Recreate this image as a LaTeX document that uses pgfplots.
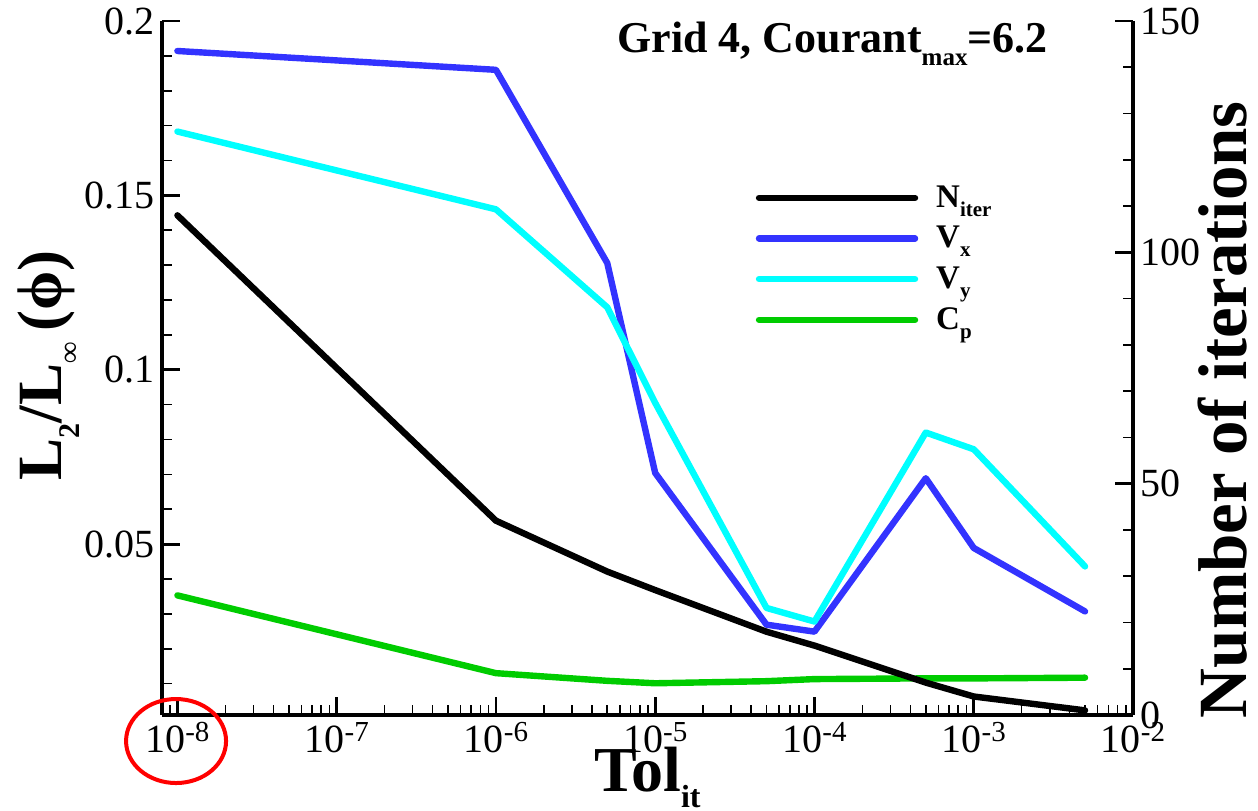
\documentclass[border=0pt]{standalone}
\usepackage{fontspec}
\setmainfont{Liberation Serif}
\usepackage{pgfplots}
\usepackage{pgfplotstable}
\pgfplotsset{compat=1.18}

\definecolor{vxblue}{RGB}{51,51,255}
\definecolor{vycyan}{RGB}{0,255,255}
\definecolor{cpgreen}{RGB}{0,204,0}

% error norms of the velocity components and pressure coefficient
\pgfplotstableread{
tol    vx     vy     cp
1e-8   0.1914 0.1683 0.0353
1e-6   0.1860 0.1460 0.0130
5e-6   0.1306 0.1179 0.0108
1e-5   0.0704 0.0905 0.0101
5e-5   0.0269 0.0317 0.0107
1e-4   0.0249 0.0278 0.0113
5e-4   0.0689 0.0820 0.0115
1e-3   0.0489 0.0772 0.0115
5e-3   0.0307 0.0436 0.0117
}\errtable

% number of iterations for each tolerance
\pgfplotstableread{
tol    niter
1e-8   108
1e-6   42
5e-6   31
1e-5   27
5e-5   18
1e-4   15
5e-4   7
1e-3   4
5e-3   1
}\itertable

\newcommand\ticksize{\fontsize{20}{20}\selectfont}
\newcommand\tlab[1]{10\raisebox{5.8pt}{\fontsize{14.5}{14.5}\selectfont -#1}}
\newcommand\lsub[1]{\raisebox{-4.5pt}{\fontsize{10.5}{10.5}\selectfont #1}}

\begin{document}
\begin{tikzpicture}
\useasboundingbox (-81pt,-47.5pt) rectangle (548pt,357.5pt);

\begin{axis}[
  scale only axis, width=485.5pt, height=347pt,
  xmode=log, xmin=8e-9, xmax=1e-2,
  tick align=inside,
  major tick length=9pt, minor tick length=5pt,
  axis line style={-, line width=1.6pt},
  every major tick/.append style={line width=1.4pt, black},
  every minor tick/.append style={line width=0.8pt, black},
  tick label style={font=\ticksize},
  axis x line*=bottom, axis y line*=left,
  ymin=0.001, ymax=0.2,
  ytick={0.05,0.1,0.15,0.2},
  yticklabels={0.05,0.1,0.15,0.2},
  minor ytick={0.01,0.02,0.03,0.04,0.06,0.07,0.08,0.09,0.11,0.12,0.13,0.14,0.16,0.17,0.18,0.19},
  xtick={1e-8,1e-7,1e-6,1e-5,1e-4,1e-3,1e-2},
  xticklabels={\tlab{8},\tlab{7},\tlab{6},\tlab{5},\tlab{4},\tlab{3},\tlab{2}},
  minor xtick={9e-9,
    2e-8,3e-8,4e-8,5e-8,6e-8,7e-8,8e-8,9e-8,
    2e-7,3e-7,4e-7,5e-7,6e-7,7e-7,8e-7,9e-7,
    2e-6,3e-6,4e-6,5e-6,6e-6,7e-6,8e-6,9e-6,
    2e-5,3e-5,4e-5,5e-5,6e-5,7e-5,8e-5,9e-5,
    2e-4,3e-4,4e-4,5e-4,6e-4,7e-4,8e-4,9e-4,
    2e-3,3e-3,4e-3,5e-3,6e-3,7e-3,8e-3,9e-3},
  xlabel={Tol\raisebox{-8pt}{\fontsize{16}{16}\selectfont it}},
  xlabel style={font=\fontsize{32}{32}\selectfont\bfseries, inner sep=0pt,
    at={(axis description cs:0.5,-0.1105)}, anchor=base},
  ylabel={L\raisebox{-9pt}{\fontsize{15}{15}\selectfont 2}/L\raisebox{-9pt}{\fontsize{15}{15}\selectfont ∞}\,(ϕ)},
  ylabel style={font=\fontsize{31.5}{31.5}\selectfont\bfseries, inner sep=0pt,
    at={(axis description cs:-0.103,0.504)}, anchor=base},
  legend style={at={(axis description cs:0.605,0.775)}, anchor=north west,
    draw=none, fill=none, font=\fontsize{16.5}{16.5}\selectfont\bfseries,
    row sep=4pt, cells={anchor=west}},
  legend image code/.code={\draw[#1, line cap=round] (0pt,0pt) -- (78pt,0pt);
    \path (85pt,0pt);},
  clip=false,
]
\addlegendimage{black, line width=3.2pt}
\addlegendentry{N\lsub{iter}}
\addplot[vxblue, line width=3.2pt, line cap=round, line join=round] table[x=tol, y=vx] {\errtable};
\addlegendentry{V\lsub{x}}
\addplot[vycyan, line width=3.2pt, line cap=round, line join=round] table[x=tol, y=vy] {\errtable};
\addlegendentry{V\lsub{y}}
\addplot[cpgreen, line width=3.2pt, line cap=round, line join=round] table[x=tol, y=cp] {\errtable};
\addlegendentry{C\lsub{p}}

\node[anchor=base east, inner sep=0pt, font=\fontsize{22}{22}\selectfont\bfseries]
  at (axis description cs:0.9125,0.955)
  {Grid 4, Courant\raisebox{-6.5pt}{\fontsize{12.5}{12.5}\selectfont max}=6.2};

\draw[red, line width=2pt] (axis description cs:0.0145,-0.0375)
  ellipse [x radius=25pt, y radius=21pt];
\end{axis}

\begin{axis}[
  scale only axis, width=485.5pt, height=347pt,
  xmode=log, xmin=8e-9, xmax=1e-2,
  tick align=inside,
  major tick length=9pt, minor tick length=5pt,
  axis line style={-, line width=1.6pt},
  every major tick/.append style={line width=1.4pt, black},
  every minor tick/.append style={line width=0.8pt, black},
  tick label style={font=\ticksize},
  axis x line=none, axis y line*=right,
  ymin=0, ymax=150,
  ytick={0,50,100,150}, yticklabels={0,50,100,150},
  minor ytick={10,20,30,40,60,70,80,90,110,120,130,140},
  ylabel={Number of iterations},
  ylabel style={font=\fontsize{34.5}{34.5}\selectfont\bfseries, inner sep=0pt,
    at={(axis description cs:1.1165,0.44)}, anchor=base},
]
\addplot[black, line width=3.2pt, line cap=round, line join=round] table[x=tol, y=niter] {\itertable};
\end{axis}
\end{tikzpicture}
\end{document}
